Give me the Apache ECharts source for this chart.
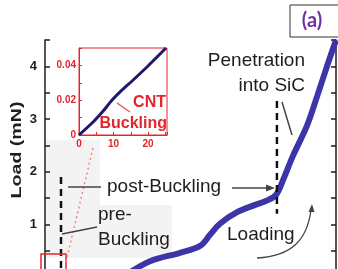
<!DOCTYPE html>
<html lang="en">
<head>
  <meta charset="UTF-8">
  <title>Load curve</title>
  <style>
    html, body { margin: 0; padding: 0; background: #fff; }
    #chart { width: 338px; height: 269px; }
  </style>
</head>
<body>
  <div id="chart"></div>
  <script src="https://cdn.jsdelivr.net/npm/echarts@6/dist/echarts.min.js"></script>
  <script>
    // main loading curve (displacement in arbitrary tick units, load in mN)
    const loadX = [2.9, 3.61, 4.64, 5.33, 5.67, 6.01, 6.60, 7.22, 7.66, 7.94, 8.18, 8.52, 9.00, 9.35, 9.69, 10.0];
    const loadY = [0.08, 0.30, 0.46, 0.59, 0.80, 1.01, 1.23, 1.37, 1.46, 1.56, 1.84, 2.30, 2.87, 3.43, 4.00, 4.50];

    // inset: CNT buckling part
    const insetX = [0, 4.1, 7.0, 9.6, 12.5, 15.7, 19.7, 22.6, 25.2];
    const insetY = [0, 0.0075, 0.0138, 0.0201, 0.0259, 0.0316, 0.0391, 0.0448, 0.050];

    // dashed markers: [x, yTop, yBottom]
    const preBuckle = [0.55, 1.9, 0.05];
    const penetration = [7.97, 3.34, 1.20];

    const yLabels = [1, 2, 3, 4];
    const insetXLabels = [0, 10, 20];
    const insetYLabels = [0, 0.02, 0.04];

    const ink = '#1e1e1e';
    const red = '#e2262c';
    const font = '"Liberation Sans", Arial, sans-serif';

    const chart = echarts.init(document.getElementById('chart'));

    function pair(xs, ys) {
      return xs.map((x, i) => [x, ys[i]]);
    }
    function vline(m) {
      return [[m[0], m[1]], [m[0], m[2]]];
    }

    const option = {
      animation: false,
      grid: [
        { left: 45, top: 40, width: 291, height: 237, outerBoundsMode: 'none' },
        { left: 79, top: 48, width: 88, height: 87, outerBoundsMode: 'none', show: true, borderColor: red, borderWidth: 1, backgroundColor: '#fff', z: 3 }
      ],
      xAxis: [
        {
          gridIndex: 0, type: 'value', min: 0, max: 10, interval: 1, position: 'top',
          axisLine: { lineStyle: { color: ink, width: 1.5 } },
          axisTick: { inside: true, length: 5, lineStyle: { color: ink, width: 1.5 } },
          axisLabel: { show: false },
          splitLine: { show: false }
        },
        {
          gridIndex: 1, type: 'value', min: 0, max: 25.5, interval: 5, z: 4,
          axisLine: { lineStyle: { color: red, width: 1 } },
          axisTick: { inside: true, length: 3, lineStyle: { color: red } },
          axisLabel: {
            color: red, fontSize: 10, fontWeight: 'bold', fontFamily: font, margin: 4,
            formatter: v => insetXLabels.includes(v) ? String(v) : ''
          },
          splitLine: { show: false }
        }
      ],
      yAxis: [
        {
          gridIndex: 0, type: 'value', min: 0, max: 4.5, interval: 0.5, position: 'left',
          axisLine: { lineStyle: { color: ink, width: 1.5 } },
          axisTick: { inside: true, length: 5, lineStyle: { color: ink, width: 1.5 } },
          axisLabel: {
            color: ink, fontSize: 13, fontWeight: 'bold', fontFamily: font, margin: 8,
            formatter: v => yLabels.includes(v) ? String(v) : ''
          },
          splitLine: { show: false }
        },
        {
          gridIndex: 0, type: 'value', min: 0, max: 4.5, interval: 0.5, position: 'right',
          axisLine: { lineStyle: { color: ink, width: 1.5 } },
          axisTick: { inside: true, length: 5, lineStyle: { color: ink, width: 1.5 } },
          axisLabel: { show: false },
          splitLine: { show: false }
        },
        {
          gridIndex: 1, type: 'value', min: 0, max: 0.05, interval: 0.01, z: 4,
          axisLine: { lineStyle: { color: red, width: 1 } },
          axisTick: { inside: true, length: 3, lineStyle: { color: red } },
          axisLabel: {
            color: red, fontSize: 10, fontWeight: 'bold', fontFamily: font, margin: 3,
            formatter: v => {
              const r = Math.round(v * 100) / 100;
              if (!insetYLabels.includes(r)) return '';
              return r === 0 ? '0' : r.toFixed(2);
            }
          },
          splitLine: { show: false }
        }
      ],
      series: [
        {
          name: 'load', type: 'line', xAxisIndex: 0, yAxisIndex: 0,
          data: pair(loadX, loadY), smooth: 0.35, symbol: 'none', clip: true,
          lineStyle: { color: '#3b35a8', width: 6 }
        },
        {
          name: 'pre', type: 'line', xAxisIndex: 0, yAxisIndex: 0,
          data: vline(preBuckle), symbol: 'none',
          lineStyle: { color: '#111', width: 2.5, type: [7, 5] }
        },
        {
          name: 'pen', type: 'line', xAxisIndex: 0, yAxisIndex: 0,
          data: vline(penetration), symbol: 'none',
          lineStyle: { color: '#111', width: 2.5, type: [7, 5] }
        },
        {
          name: 'inset', type: 'line', xAxisIndex: 1, yAxisIndex: 2, z: 5,
          data: pair(insetX, insetY), smooth: 0.2, symbol: 'none',
          lineStyle: { color: '#1c1a6e', width: 3 }
        }
      ],
      graphic: [
        // faint grey patch behind the pre-buckling note
        { type: 'rect', z: -1, shape: { x: 46, y: 140, width: 54, height: 118 }, style: { fill: '#f3f3f3' } },
        { type: 'rect', z: -1, shape: { x: 100, y: 205, width: 72, height: 53 }, style: { fill: '#f3f3f3' } },

        // zoom box and its guide to the inset
        { type: 'rect', z: 10, shape: { x: 41, y: 254, width: 25, height: 22 }, style: { fill: 'none', stroke: red, lineWidth: 1.5 } },
        { type: 'line', z: 10, shape: { x1: 66, y1: 262, x2: 93, y2: 148 }, style: { stroke: '#f08590', lineWidth: 1.5, lineDash: [2, 3] } },

        // y axis name
        {
          type: 'text', z: 10, x: 17, y: 150, rotation: Math.PI / 2, scaleX: 1.4,
          style: { text: 'Load (mN)', fill: ink, font: 'bold 14px ' + font, align: 'center', verticalAlign: 'middle' }
        },

        // panel tag
        { type: 'rect', z: 10, shape: { x: 290, y: 5, width: 50, height: 32 }, style: { fill: '#fff', stroke: '#333', lineWidth: 1 } },
        { type: 'text', z: 11, x: 312, y: 21, style: { text: '(a)', fill: '#7030a0', font: 'bold 20px Lato, sans-serif', align: 'center', verticalAlign: 'middle' } },

        // inset note
        { type: 'text', z: 10, x: 166, y: 103, style: { text: 'CNT', fill: red, font: 'bold 16px ' + font, align: 'right', verticalAlign: 'middle' } },
        { type: 'text', z: 10, x: 167, y: 124, style: { text: 'Buckling', fill: red, font: 'bold 16px ' + font, align: 'right', verticalAlign: 'middle' } },
        { type: 'line', z: 10, shape: { x1: 117, y1: 103, x2: 130, y2: 112 }, style: { stroke: '#e05a5a', lineWidth: 1.5 } },

        // penetration note
        { type: 'text', z: 10, x: 305, y: 61, style: { text: 'Penetration', fill: ink, font: '19px ' + font, align: 'right', verticalAlign: 'middle' } },
        { type: 'text', z: 10, x: 305, y: 86, style: { text: 'into SiC', fill: ink, font: '19px ' + font, align: 'right', verticalAlign: 'middle' } },
        { type: 'line', z: 10, shape: { x1: 282, y1: 102, x2: 292, y2: 135 }, style: { stroke: '#444', lineWidth: 1.5 } },

        // post-buckling note
        { type: 'text', z: 10, x: 107, y: 187, style: { text: 'post-Buckling', fill: ink, font: '19px ' + font, align: 'left', verticalAlign: 'middle' } },
        { type: 'line', z: 10, shape: { x1: 68, y1: 187, x2: 101, y2: 187 }, style: { stroke: '#444', lineWidth: 1.5 } },
        { type: 'line', z: 10, shape: { x1: 232, y1: 188, x2: 268, y2: 188 }, style: { stroke: '#444', lineWidth: 1.5 } },
        { type: 'polygon', z: 10, shape: { points: [[275, 188], [266, 184.5], [266, 191.5]] }, style: { fill: '#444' } },

        // pre-buckling note
        { type: 'text', z: 10, x: 98, y: 215, style: { text: 'pre-', fill: ink, font: '19px ' + font, align: 'left', verticalAlign: 'middle' } },
        { type: 'text', z: 10, x: 98, y: 240, style: { text: 'Buckling', fill: ink, font: '19px ' + font, align: 'left', verticalAlign: 'middle' } },
        { type: 'line', z: 10, shape: { x1: 62, y1: 234, x2: 97, y2: 227 }, style: { stroke: '#444', lineWidth: 1.5 } },

        // loading note
        { type: 'text', z: 10, x: 227, y: 235, style: { text: 'Loading', fill: ink, font: '19px ' + font, align: 'left', verticalAlign: 'middle' } },
        { type: 'bezierCurve', z: 10, shape: { x1: 257, y1: 258, cpx1: 292, cpy1: 256, cpx2: 307, cpy2: 240, x2: 311, y2: 210 }, style: { stroke: '#444', lineWidth: 1.3, fill: 'none' } },
        { type: 'polygon', z: 10, shape: { points: [[312, 204], [308.5, 212], [314.5, 212]] }, style: { fill: '#444' } }
      ]
    };

    chart.setOption(option);
  </script>
</body>
</html>
